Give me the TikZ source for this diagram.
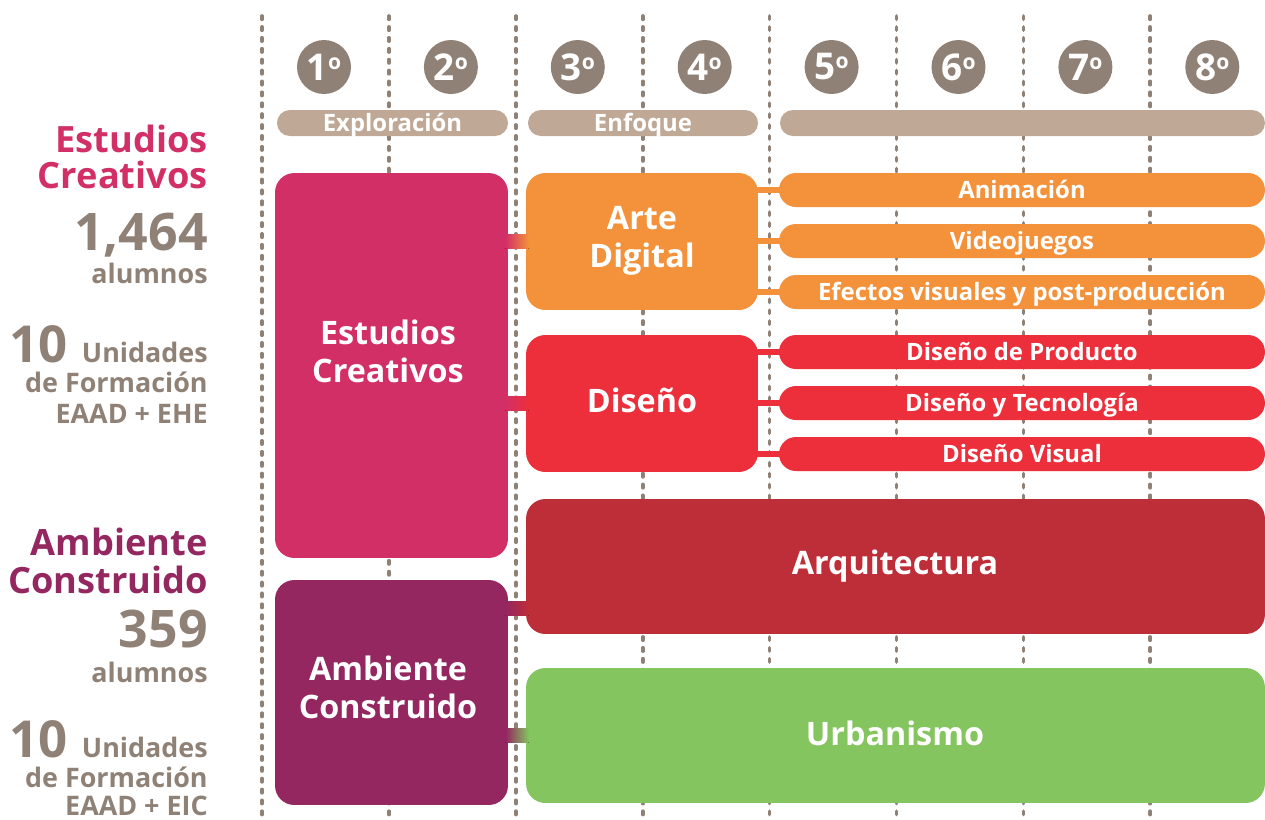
\documentclass[tikz,border=0pt]{standalone}
\usepackage{fontspec}
\setmainfont{Open Sans}
\usetikzlibrary{calc, positioning}

\definecolor{greyC}{HTML}{8F8176}
\definecolor{tanC}{HTML}{BFA996}
\definecolor{pinkC}{HTML}{D22F67}
\definecolor{purpleC}{HTML}{942660}
\definecolor{orangeC}{HTML}{F3923B}
\definecolor{redC}{HTML}{EC2F3B}
\definecolor{darkredC}{HTML}{BE2E38}
\definecolor{greenC}{HTML}{84C560}

\newcommand{\ordn}[1]{#1\raisebox{0.3em}{\fontsize{12}{12}\selectfont o}}

\begin{document}
\begin{tikzpicture}[x=0.02cm, y=-0.02cm,
    block/.style={rounded corners=11pt, inner sep=0pt},
    blocktext/.style={text=white, align=center, inner sep=0pt,
        font=\fontsize{18.4}{21.5}\selectfont\bfseries},
    pill/.style={rounded corners=9.6pt, minimum width=9.72cm, minimum height=0.68cm,
        text height=9.7pt, text depth=0pt,
        text=white, inner sep=0pt, font=\fontsize{13.6}{15}\selectfont\bfseries},
    phase/.style={fill=tanC, rounded corners=7.3pt, minimum height=0.52cm,
        text height=9.7pt, text depth=0pt,
        inner sep=0pt, text=white, font=\fontsize{13.6}{15}\selectfont\bfseries},
    term/.style={circle, fill=greyC, minimum size=1.08cm, inner sep=0pt,
        text=white, font=\fontsize{21}{22}\selectfont\bfseries},
    side/.style={anchor=base east, inner sep=0pt, text=greyC,
        font=\fontsize{15.3}{15}\selectfont\bfseries},
    link/.style={line width=3.4pt}]
    \useasboundingbox (0,0) rectangle (1265,819);

    % semester grid
    \foreach \i in {0,...,7}
        \draw[greyC, line width=2.1pt, line cap=round, dash pattern=on 1.9pt off 4.3pt]
            (262+126.9*\i, 16) -- (262+126.9*\i, 822);
    \foreach \i in {1,...,8}
        \node[term] (t\i) at (324+126.9*\i-126.9, 67) {\ordn{\i}};

    \node[phase, minimum width=4.62cm] (explo) at (392.5, 123) {Exploración};
    \node[phase, minimum width=4.60cm] (enfo) at (643, 123) {Enfoque};
    \node[phase, minimum width=9.70cm] (espe) at (1022.5, 123) {};

    % areas
    \node[block, fill=pinkC, minimum width=4.66cm, minimum height=7.7cm] (est) at (391.5, 365.5) {};
    \node[block, fill=purpleC, minimum width=4.66cm, minimum height=4.5cm] (amb) at (391.5, 692.5) {};
    \node[block, fill=orangeC, minimum width=4.64cm, minimum height=2.74cm] (arte) at (642, 241.5) {};
    \node[block, fill=redC, minimum width=4.64cm, minimum height=2.74cm] (dis) at (642, 403.5) {};
    \node[block, fill=darkredC, minimum width=14.78cm, minimum height=2.7cm] (arq) at (895.5, 566.5) {};
    \node[block, fill=greenC, minimum width=14.78cm, minimum height=2.7cm] (urb) at (895.5, 735.5) {};

    \node[blocktext] (estT) at (388, 351) {Estudios\\Creativos};
    \node[blocktext] (ambT) at (388, 687) {Ambiente\\Construido};
    \node[blocktext] (arteT) at (642, 241) {Arte\\Digital};
    \node[blocktext] (disT) at (642, 400) {Diseño};
    \node[blocktext] (arqT) at (895, 566) {Arquitectura};
    \node[blocktext] (urbT) at (895, 733) {Urbanismo};

    % specialities
    \node[pill, fill=orangeC] (ani) at (1022, 190) {Animación};
    \node[pill, fill=orangeC] (vid) at (1022, 241) {Videojuegos};
    \node[pill, fill=orangeC] (efe) at (1022, 292) {Efectos visuales y post-producción};
    \node[pill, fill=redC] (pro) at (1022, 352) {Diseño de Producto};
    \node[pill, fill=redC] (tec) at (1022, 403) {Diseño y Tecnología};
    \node[pill, fill=redC] (vis) at (1022, 454) {Diseño Visual};

    \fill[left color=pinkC, right color=orangeC] ($(est.east |- arte.west)+(-3,-7)$) rectangle ($(arte.west)+(3,7)$);
    \fill[left color=pinkC, right color=redC] ($(est.east |- dis.west)+(-3,-7)$) rectangle ($(dis.west)+(3,7)$);
    \fill[left color=purpleC, right color=darkredC] ($(amb.north east)+(-3,22)$) rectangle ($(arq.west |- amb.north east)+(3,36)$);
    \fill[left color=purpleC, right color=greenC] ($(amb.east |- urb.west)+(-3,-7)$) rectangle ($(urb.west)+(3,7)$);

    \foreach \p in {ani, vid, efe}
        \draw[link, orangeC] ($(arte.east |- \p.west)+(-4,0)$) -- ($(\p.west)+(4,0)$);
    \foreach \p in {pro, tec, vis}
        \draw[link, redC] ($(dis.east |- \p.west)+(-4,0)$) -- ($(\p.west)+(4,0)$);

    % totals
    \node[side, text=pinkC, font=\fontsize{20.6}{20}\selectfont\bfseries] (estA) at (208, 152) {Estudios};
    \node[side, text=pinkC, font=\fontsize{20.6}{20}\selectfont\bfseries] (estB) at (208, 188) {Creativos};
    \node[side, font=\fontsize{29.5}{29}\selectfont\bfseries] (estN) at (208, 250) {1,464};
    \node[side] (estC) at (208, 283) {alumnos};
    \node[side] (estD) at (208, 362) {{\fontsize{29}{29}\selectfont 10}\ \ Unidades};
    \node[side] (estE) at (208, 392) {de Formación};
    \node[side] (estF) at (208, 423) {EAAD + EHE};

    \node[side, text=purpleC, font=\fontsize{20.6}{20}\selectfont\bfseries] (ambA) at (208, 555) {Ambiente};
    \node[side, text=purpleC, font=\fontsize{20.6}{20}\selectfont\bfseries] (ambB) at (208, 593) {Construido};
    \node[side, font=\fontsize{29.5}{29}\selectfont\bfseries] (ambN) at (208, 647) {359};
    \node[side] (ambC) at (208, 682) {alumnos};
    \node[side] (ambD) at (208, 757) {{\fontsize{29}{29}\selectfont 10}\ \ Unidades};
    \node[side] (ambE) at (208, 787) {de Formación};
    \node[side] (ambF) at (208, 815) {EAAD + EIC};
\end{tikzpicture}
\end{document}
